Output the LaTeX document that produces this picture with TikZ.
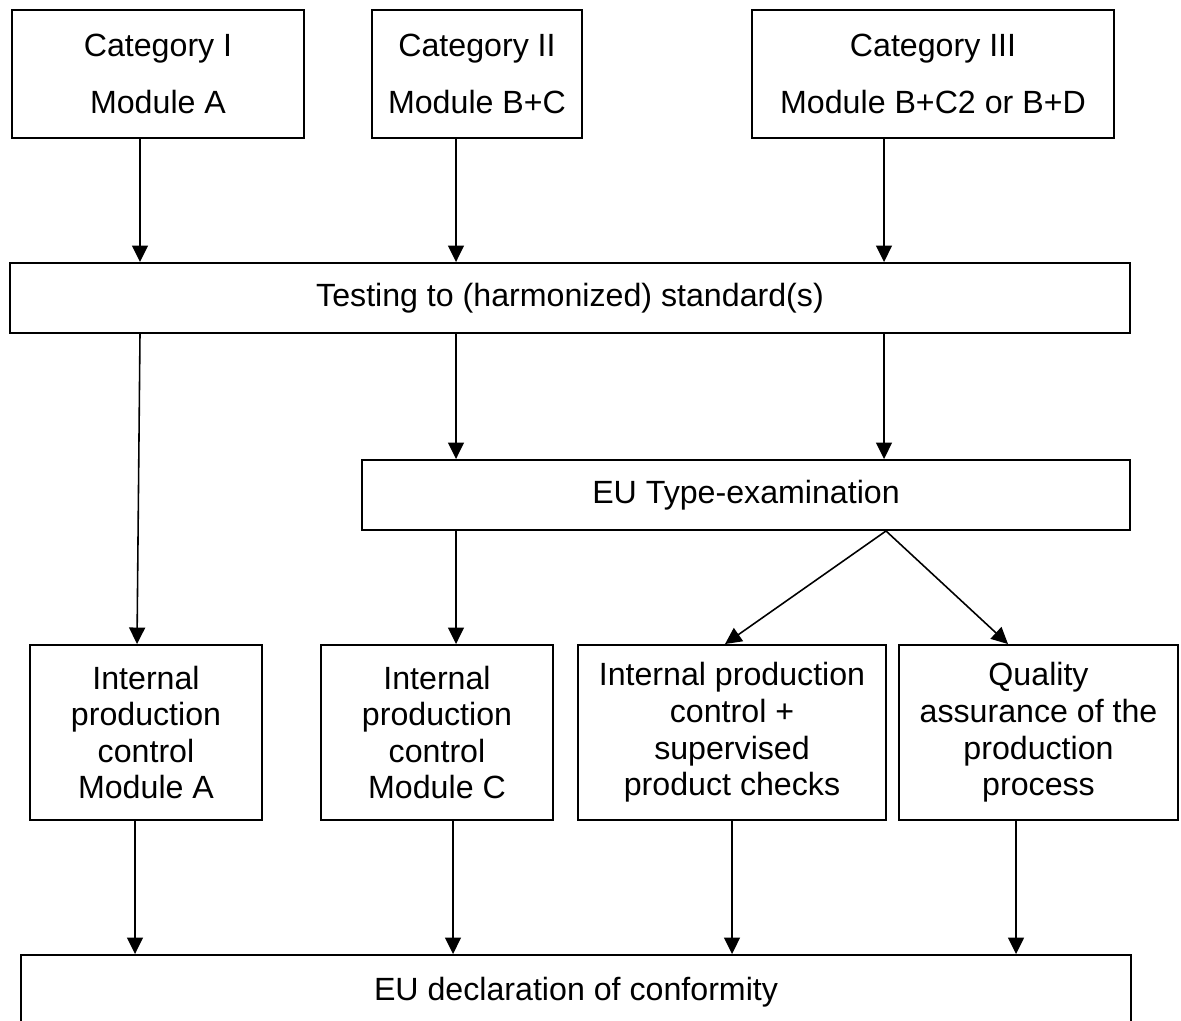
\documentclass[tikz,border=0pt]{standalone}
\usepackage{fontspec}
\setmainfont{Liberation Sans}
\usetikzlibrary{arrows.meta,positioning}
\tikzset{box/.style={draw,line width=1.1pt,align=center,inner sep=2pt,font=\fontsize{18.3}{20.8}\selectfont}}
\tikzset{catbox/.style={box,minimum height=2.56cm}}
\tikzset{flatbox/.style={box,minimum height=1.4cm}}
\tikzset{modbox/.style={box,minimum height=3.5cm}}
\tikzset{arrow/.style={draw,line width=0.9pt,-{Triangle[length=3.3mm,width=3.2mm]}}}

\begin{document}
\begin{tikzpicture}
    \path[use as bounding box] (0,0) rectangle (23.62,-20.42);
    \clip (0,0) rectangle (23.62,-20.42);

    \node[catbox,minimum width=5.84cm] (cat1) at (3.16,-1.48) {Category I\\[0.42cm]Module A};
    \node[catbox,minimum width=4.2cm,right of=cat1,node distance=6.38cm] (cat2) {Category II\\[0.42cm]Module B+C};
    \node[catbox,minimum width=7.24cm,right of=cat2,node distance=9.12cm] (cat3) {Category III\\[0.42cm]Module B+C2 or B+D};

    \node[flatbox,minimum width=22.4cm] (test) at (11.4,-5.96) {Testing to (harmonized) standard(s)};
    \node[flatbox,minimum width=15.36cm] (eut) at (14.92,-9.9) {EU Type-examination};

    \node[modbox,minimum width=4.64cm] (ipcA) at (2.92,-14.65) {Internal\\production\\control\\Module A};
    \node[modbox,minimum width=4.64cm,right of=ipcA,node distance=5.82cm] (ipcC) {Internal\\production\\control\\Module C};
    \node[modbox,minimum width=6.16cm,right of=ipcC,node distance=5.9cm] (ipcS) {Internal production\\control +\\supervised\\product checks};
    \node[modbox,minimum width=5.58cm,right of=ipcS,node distance=6.13cm] (qa) {Quality\\assurance of the\\production\\process};

    \node[box,minimum width=22.2cm,minimum height=1.5cm] (decl) at (11.52,-19.85) {EU declaration of conformity};

        \path[arrow] ([xshift=-0.36cm]cat1.south) -- ([xshift=-0.36cm]cat1.south |- test.north);
        \path[arrow] ([xshift=-0.42cm]cat2.south) -- ([xshift=-0.42cm]cat2.south |- test.north);
        \path[arrow] ([xshift=-0.98cm]cat3.south) -- ([xshift=-0.98cm]cat3.south |- test.north);
        \path[arrow] ([xshift=-8.6cm]test.south) -- ([xshift=-0.18cm]ipcA.north);
        \path[arrow] ([xshift=-5.8cm]eut.north |- test.south) -- ([xshift=-5.8cm]eut.north);
        \path[arrow] ([xshift=2.76cm]eut.north |- test.south) -- ([xshift=2.76cm]eut.north);
        \path[arrow] ([xshift=-5.8cm]eut.south) -- ([xshift=-5.8cm]eut.south |- ipcC.north);
        \path[arrow] ([xshift=2.8cm]eut.south) -- ([xshift=-0.14cm]ipcS.north);
        \path[arrow] ([xshift=2.8cm]eut.south) -- ([xshift=-0.61cm]qa.north);
        \path[arrow] ([xshift=-0.22cm]ipcA.south) -- ([xshift=-0.22cm]ipcA.south |- decl.north);
        \path[arrow] ([xshift=0.32cm]ipcC.south) -- ([xshift=0.32cm]ipcC.south |- decl.north);
        \path[arrow] (ipcS.south) -- (ipcS.south |- decl.north);
        \path[arrow] ([xshift=-0.45cm]qa.south) -- ([xshift=-0.45cm]qa.south |- decl.north);
  \end{tikzpicture}
\end{document}
